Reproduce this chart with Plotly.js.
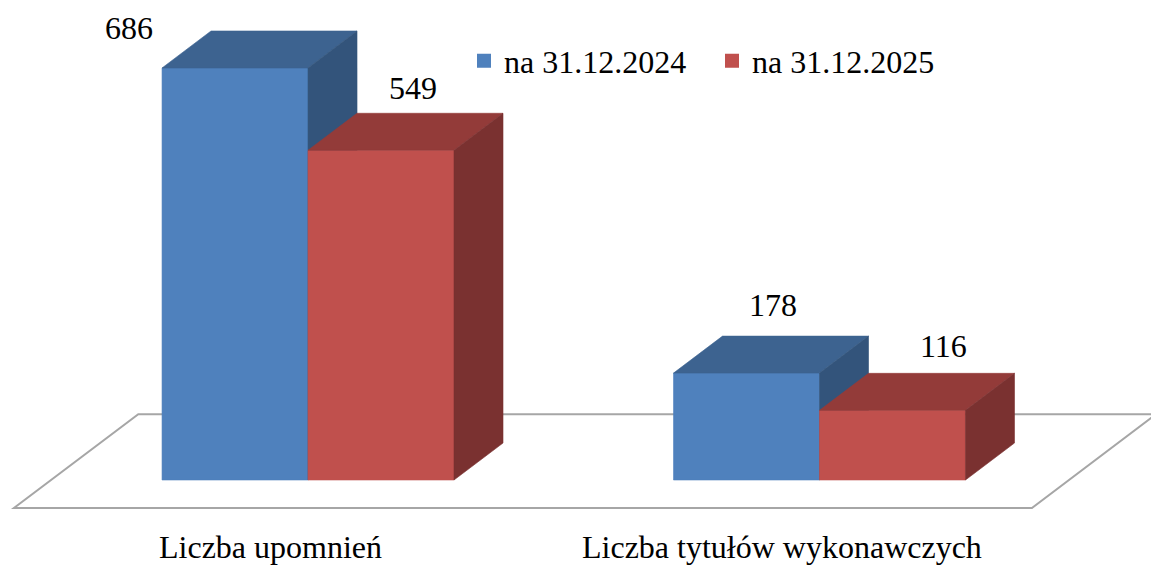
<!DOCTYPE html>
<html>
<head>
<meta charset="utf-8">
<script src="https://cdn.plot.ly/plotly-3.0.1.min.js"></script>
<style>html,body{margin:0;padding:0;background:#fff;}#chart{width:1151px;height:565px;}</style>
</head>
<body>
<div id="chart"></div>
<script>
// ---- data ----
const categories = ['Liczba upomnień', 'Liczba tytułów wykonawczych'];
const seriesNames = ['na 31.12.2024', 'na 31.12.2025'];
const values2024 = [686, 178];
const values2025 = [549, 116];

// ---- style ----
const FONT = '"Liberation Serif", "Times New Roman", serif';
const FS = 32;
const seriesColors = [
  {front: '#4F81BD', top: '#3D6390', side: '#33547B'},
  {front: '#C0504D', top: '#933B39', side: '#7A3130'}
];
const BAR_W = 0.2854;      // bar width (x units)
const DX = 0.0958;         // depth offset in x units
const DY = 61.6;           // depth offset in value units
const FLOOR_D_FRONT = -0.757, FLOOR_D_BACK = 1.78;
const FLOOR_X_LEFT = -0.5024, FLOOR_X_RIGHT = 1.4878;
// label offsets in px (xshift, yshift) per series per category
const labelShift = [[[-106, 40], [26, 68]], [[32, 62], [51, 64]]];

const seriesValues = [values2024, values2025];
const traces = [];
const annotations = [];

function poly(pts, color) {
  return {
    type: 'scatter', mode: 'lines', fill: 'toself',
    x: pts.map(p => p[0]).concat([pts[0][0]]),
    y: pts.map(p => p[1]).concat([pts[0][1]]),
    fillcolor: color, line: {color: color, width: 0.6},
    hoverinfo: 'skip', showlegend: false
  };
}

categories.forEach((cat, c) => {
  seriesValues.forEach((vals, s) => {
    const v = vals[c];
    const x0 = c + (s === 0 ? -BAR_W : 0);
    const x1 = x0 + BAR_W;
    const col = seriesColors[s];
    traces.push(poly([[x0, 0], [x1, 0], [x1, v], [x0, v]], col.front));
    traces.push(poly([[x0, v], [x1, v], [x1 + DX, v + DY], [x0 + DX, v + DY]], col.top));
    traces.push(poly([[x1, 0], [x1 + DX, DY], [x1 + DX, v + DY], [x1, v]], col.side));
    annotations.push({
      x: (x0 + x1) / 2, y: v, xref: 'x', yref: 'y', text: String(v), showarrow: false,
      xanchor: 'center', yanchor: 'middle',
      xshift: labelShift[s][c][0], yshift: labelShift[s][c][1],
      font: {family: FONT, size: FS, color: '#000'}
    });
  });
  annotations.push({
    x: c + FLOOR_D_FRONT * DX, y: 0.032, xref: 'x', yref: 'paper', text: cat, showarrow: false,
    xanchor: 'center', yanchor: 'middle',
    font: {family: FONT, size: FS, color: '#000'}
  });
});

// legend-only traces
seriesNames.forEach((name, s) => {
  traces.push({
    type: 'scatter', mode: 'markers', x: [null], y: [null], name: name,
    marker: {symbol: 'square', size: 14, color: seriesColors[s].front},
    hoverinfo: 'skip', showlegend: true
  });
});

// floor
const fc = [
  [FLOOR_X_LEFT + FLOOR_D_FRONT * DX, FLOOR_D_FRONT * DY],
  [FLOOR_X_RIGHT + FLOOR_D_FRONT * DX, FLOOR_D_FRONT * DY],
  [FLOOR_X_RIGHT + FLOOR_D_BACK * DX, FLOOR_D_BACK * DY],
  [FLOOR_X_LEFT + FLOOR_D_BACK * DX, FLOOR_D_BACK * DY]
];
const floorPath = 'M' + fc.map(p => p[0] + ',' + p[1]).join(' L') + ' Z';

const layout = {
  width: 1151, height: 565,
  margin: {l: 0, r: 0, t: 0, b: 0},
  paper_bgcolor: '#fff', plot_bgcolor: '#fff',
  xaxis: {range: [-0.6022, 1.6481], visible: false, fixedrange: true},
  yaxis: {range: [-141.5, 799.2], visible: false, fixedrange: true},
  showlegend: true,
  legend: {
    orientation: 'h', x: 464 / 1151, y: 1 - 61 / 565, xanchor: 'left', yanchor: 'middle',
    entrywidth: 203, entrywidthmode: 'pixels',
    font: {family: FONT, size: FS, color: '#000'}, bgcolor: 'rgba(0,0,0,0)'
  },
  shapes: [{
    type: 'path', path: floorPath, xref: 'x', yref: 'y', layer: 'below',
    fillcolor: '#fff', line: {color: '#A6A6A6', width: 2}
  }],
  annotations: annotations
};

Plotly.newPlot('chart', traces, layout, {displayModeBar: false, staticPlot: true});
</script>
</body>
</html>
